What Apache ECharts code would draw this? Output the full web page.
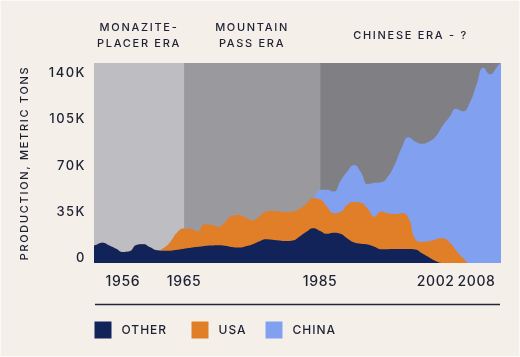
<!DOCTYPE html>
<html><head><meta charset="utf-8">
<script src="https://cdn.jsdelivr.net/npm/echarts@6/dist/echarts.min.js"></script>
<style>html,body{margin:0;padding:0;background:#fff}#c{width:520px;height:357px}</style>
</head><body><div id="c"></div>
<script>
// ---- data (thousand metric tons) ----
const years = [1951,1952,1953,1954,1955,1956,1957,1958,1959,1960,
  1961,1962,1963,1964,1965,1966,1967,1968,1969,1970,
  1971,1972,1973,1974,1975,1976,1977,1978,1979,1980,
  1981,1982,1983,1984,1985,1986,1987,1988,1989,1990,
  1991,1992,1993,1994,1995,1996,1997,1998,1999,2000,
  2001,2002,2003,2004,2005,2006,2007,2008,2009,2010,
  2011,2012];
const other = [11.5,13.5,15.3,13.2,10.8,8.3,8.8,13.6,14.1,11.8,
  9.6,9.2,9.3,10.0,10.8,11.5,12.2,12.9,13.2,13.4,
  13.0,12.1,11.7,12.5,13.9,16.2,18.0,17.6,17.0,16.6,
  17.0,20.0,23.5,26.2,24.2,22.0,22.8,22.0,18.5,15.5,
  14.6,14.0,12.3,10.4,10.4,10.5,10.6,10.6,10.2,7.3,
  4.3,1.5,0,0,0,0,0,0,0,0,
  0,0];
const usa = [0,0,0,0,0,0,0,0,0,0,
  0,2.0,6.7,13.0,15.2,14.3,11.8,16.4,15.8,14.0,
  18.0,23.4,24.5,22.0,18.4,18.8,20.8,21.9,22.0,21.9,
  22.0,21.0,21.5,22.7,23.9,20.6,14.8,16.5,25.5,30.5,
  30.9,27.0,22.7,28.4,27.1,26.5,27.0,23.4,7.8,8.7,
  12.2,16.3,18.7,15.8,9.5,4.0,0,0,0,0,
  0,0];
const china = [0,0,0,0,0,0,0,0,0,0,
  0,0,0,0,0,0,0,0,0,0,
  0,0,0,0,0,0,0,0,0,0,
  0,0,0,0,7.1,12.7,16.3,23.5,25.0,28.0,
  23.0,18.5,25.5,22.2,28.0,37.6,49.4,61.0,73.7,74.0,
  75.0,77.7,84.8,94.2,107.0,110.5,121.0,134.6,147.5,142.5,
  148.0,155.0];
const seriesNames = ['OTHER', 'USA', 'CHINA'];
const seriesColors = ['#12235a', '#e07f28', '#82a0f0'];
const eraNames = ['MONAZITE-\nPLACER ERA', 'MOUNTAIN\nPASS ERA', 'CHINESE ERA - ?'];
const xMin = 1951.76, xMax = 2011.6;
const eraStart = [xMin, 1965, 1985];
const eraEnd = [1965, 1985, xMax];
const eraColors = ['#bebdc1', '#9a999d', '#807f84'];
const xTickYears = [1956, 1965, 1985, 2002, 2008];
const yTicks = [0, 35, 70, 105, 140];
const yMax = 151;

// letter spacing (tracking) per font size, applied to canvas text
const tracking = {11: 1.7, 12: 1.0, 13: 1.5, 14: 0.6};
(function () {
  const proto = CanvasRenderingContext2D.prototype;
  const orig = proto.fillText;
  proto.fillText = function (t, x, y, w) {
    const m = /(\d+(?:\.\d+)?)px/.exec(this.font);
    const sp = m ? tracking[parseFloat(m[1])] : 0;
    if ('letterSpacing' in this) this.letterSpacing = (sp || 0) + 'px';
    return w === undefined ? orig.call(this, t, x, y) : orig.call(this, t, x, y, w);
  };
})();

const textColor = '#1e2034';
const font = 'Inter';
const seriesData = [other, usa, china];
// cumulative (stacked) totals: each layer is drawn from 0 up to its running sum,
// back layers first, so the visible band of each equals its own value
const cumulative = seriesData.map((arr, i) =>
  years.map((y, j) => {
    let s = 0;
    for (let k = 0; k <= i; k++) s += seriesData[k][j];
    return [y, +s.toFixed(2)];
  }));

const chart = echarts.init(document.getElementById('c'), null, {renderer: 'canvas'});
const series = seriesNames.map((name, i) => ({
  name: name,
  type: 'line',
  smooth: 0.5,
  symbol: 'none',
  showSymbol: false,
  color: seriesColors[i],
  lineStyle: {width: 0},
  areaStyle: {color: seriesColors[i], opacity: 1, origin: 'start'},
  emphasis: {disabled: true},
  z: 6 - i,
  data: cumulative[i]
}));
series.unshift({
  name: 'eras',
  type: 'line',
  data: [],
  z: 1,
  clip: false,
  silent: true,
  markArea: {
    silent: true,
    data: eraNames.map((n, i) => [
      {name: n, xAxis: eraStart[i], itemStyle: {color: eraColors[i], opacity: 1}},
      {xAxis: eraEnd[i]}
    ]),
    label: {
      show: true,
      position: ['50%', -27],
      align: 'center',
      verticalAlign: 'middle',
      lineHeight: 16,
      fontSize: 11,
      fontFamily: font,
      fontWeight: 500,
      color: textColor
    }
  }
});

const legends = seriesNames.map((n, i) => ({
  data: [n],
  left: [94.5, 191.5, 265.5][i],
  top: 321.5,
  icon: 'rect',
  itemWidth: 17,
  itemHeight: 17,
  itemGap: 0,
  padding: 0,
  selectedMode: false,
  textStyle: {fontSize: 12, fontFamily: font, fontWeight: 500, color: textColor, padding: [0, 0, 0, 5]}
}));

chart.setOption({
  animation: false,
  backgroundColor: '#f5efe9',
  grid: {left: 94, right: 19, top: 63, bottom: 94, containLabel: false},
  xAxis: {
    type: 'value',
    min: xMin,
    max: xMax,
    axisLine: {show: false},
    axisTick: {show: false},
    splitLine: {show: false},
    axisLabel: {
      customValues: xTickYears,
      formatter: v => String(v),
      margin: 12,
      lineHeight: 14,
      fontSize: 14,
      fontFamily: font,
      fontWeight: 500,
      color: textColor
    }
  },
  yAxis: {
    type: 'value',
    min: 0,
    max: yMax,
    name: 'PRODUCTION, METRIC TONS',
    nameLocation: 'middle',
    nameRotate: 90,
    nameGap: 64,
    nameTextStyle: {fontSize: 11, fontFamily: font, fontWeight: 500, color: textColor},
    axisLine: {show: false},
    axisTick: {show: false},
    splitLine: {show: false},
    axisLabel: {
      customValues: yTicks,
      formatter: v => (yTicks.indexOf(v) < 0 ? '' : (v === 0 ? '0' : v + 'K')),
      margin: 8,
      verticalAlign: 'bottom',
      lineHeight: 9,
      fontSize: 13,
      fontFamily: font,
      fontWeight: 500,
      color: textColor
    }
  },
  legend: legends,
  graphic: [
    {type: 'line', shape: {x1: 95, y1: 304.5, x2: 500, y2: 304.5}, style: {stroke: '#24253a', lineWidth: 1.4}, silent: true},
    {type: 'rect', shape: {x: 0, y: 0, width: 520, height: 357}, style: {fill: null, stroke: '#fbf9f7', lineWidth: 2}, silent: true}
  ],
  series: series
});
</script></body></html>
